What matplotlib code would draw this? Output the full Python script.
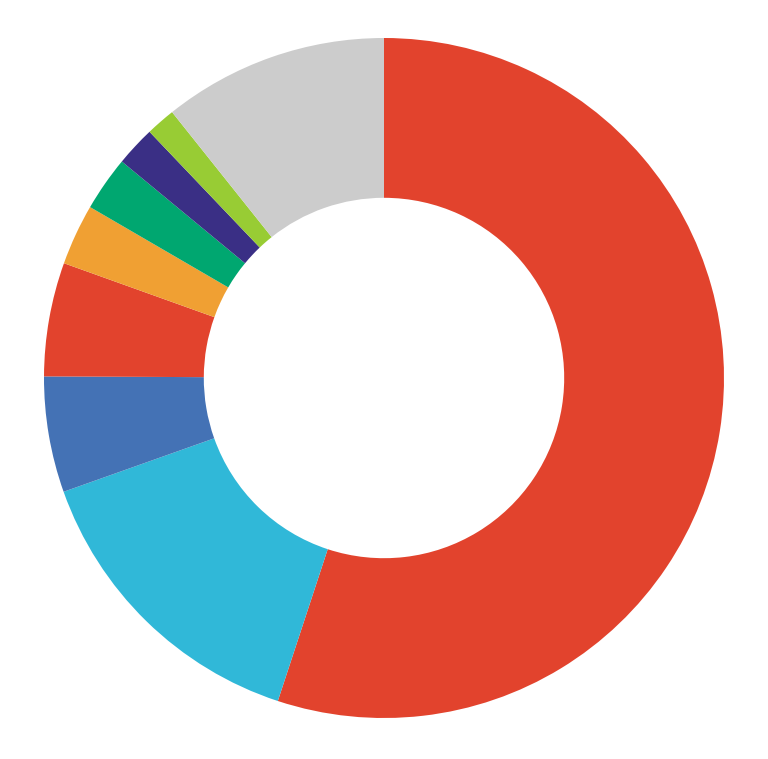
import matplotlib
matplotlib.use("Agg")
import matplotlib.pyplot as plt

# share of each segment, clockwise from 12 o'clock
shares = [55.0, 14.5, 5.5, 5.4, 2.9, 2.6, 1.9, 1.4, 10.7]
colors = ["#E2432D", "#30B8D8", "#4472B5", "#E2432D", "#F0A033",
          "#00A770", "#3A2F85", "#98CC34", "#CCCCCC"]

fig = plt.figure(figsize=(7.68, 7.59), dpi=100)
ax = fig.add_axes([0, 0, 1, 1])

# 1 data unit = 340 px, ring centre at (384, 378) from top-left
scale = 340.0
ax.pie(shares, colors=colors, startangle=90, counterclock=False,
       radius=1.0, wedgeprops=dict(width=0.47, linewidth=0))

ax.set_aspect("auto")
ax.set_xlim(-384 / scale, 384 / scale)
ax.set_ylim(-381 / scale, 378 / scale)
ax.axis("off")

fig.savefig("out.png", dpi=100, facecolor="white")
